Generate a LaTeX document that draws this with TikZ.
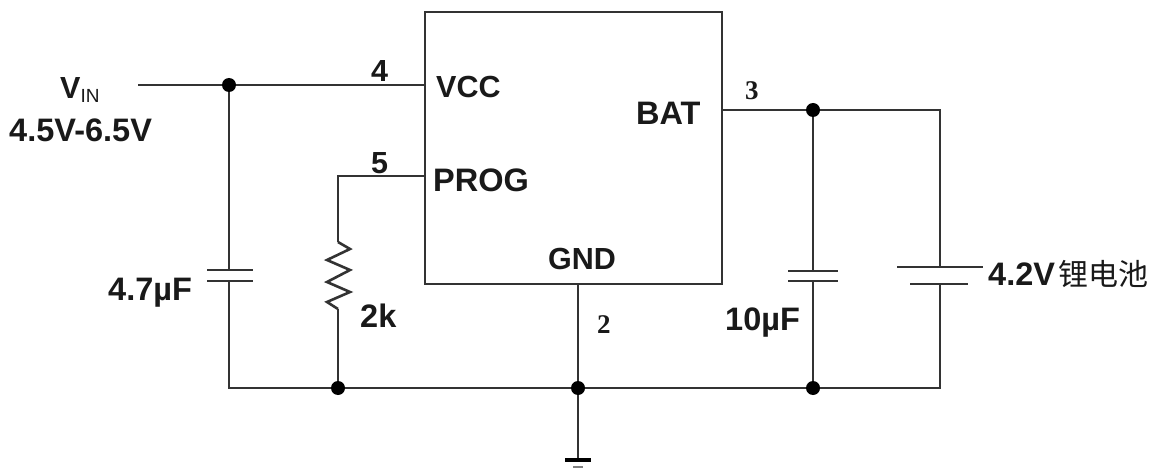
\documentclass[tikz,border=0pt]{standalone}
\usepackage{fontspec}
\setmainfont{Liberation Sans}
\newfontfamily\serifnum{Liberation Serif}
\newfontfamily\cjk{Noto Sans CJK SC}
\usetikzlibrary{positioning}
\tikzset{
  wire/.style={line width=2.6pt,draw=black!80,line join=miter},
  plate/.style={line width=2.8pt,draw=black!80},
  junction/.style={circle,fill=black,inner sep=0pt,minimum size=14pt},
  lab/.style={anchor=base west,inner sep=0pt,font=\fontsize{32.5}{36}\selectfont\bfseries,text=black!90},
  labs/.style={anchor=base west,inner sep=0pt,font=\fontsize{30.5}{36}\selectfont\bfseries,text=black!90},
  serifpin/.style={anchor=base west,inner sep=0pt,font=\fontsize{27}{30}\serifnum\bfseries,text=black!90},
  icbox/.style={draw=black!80,line width=2.6pt,minimum width=297pt,minimum height=272pt,inner sep=0pt,fill=white}
}
\begin{document}
\begin{tikzpicture}[x=1pt,y=-1pt]
\useasboundingbox[fill=white] (0,0) rectangle (1157,468);
% IC
\node[icbox] (ic) at (573.5,148) {};
\coordinate (vccpin) at (425,85);
\coordinate (progpin) at (425,176);
\coordinate (batpin) at (722,110);
\coordinate (gndpin) at (578,284);
% free ends and corners
\coordinate (vin) at (138,85);
\coordinate (progcorner) at (338,176);
\coordinate (rtop) at (338,242);
\coordinate (rbot) at (338,309);
\coordinate (c1top) at (229,270);
\coordinate (c1bot) at (229,281);
\coordinate (c2top) at (813,271);
\coordinate (c2bot) at (813,281);
\coordinate (battop) at (940,267);
\coordinate (batbot) at (940,284);
\coordinate (batcorner) at (940,110);
\coordinate (botleft) at (229,388);
\coordinate (botright) at (940,388);
\coordinate (gndend) at (578,460);
% junctions
\node[junction] (j1) at (229,85) {};
\node[junction] (j2) at (813,110) {};
\node[junction] (j3) at (338,388) {};
\node[junction] (j4) at (578,388) {};
\node[junction] (j5) at (813,388) {};
% wires
\draw[wire] (vin) -- (j1) -- (vccpin);
\draw[wire] (j1) -- (c1top);
\draw[wire] (c1bot) -- (botleft) -- (j3) -- (j4) -- (j5) -- (botright) -- (batbot);
\draw[wire] (progpin) -- (progcorner) -- (rtop);
\draw[wire] (rtop) -- ++(12,7) -- ++(-23,11) -- ++(23,10) -- ++(-23,12) -- ++(23,10) -- ++(-23,10) -- (rbot);
\draw[wire] (rbot) -- (j3);
\draw[wire] (gndpin) -- (j4) -- (gndend);
\draw[wire] (batpin) -- (j2) -- (batcorner) -- (battop);
\draw[wire] (j2) -- (c2top);
\draw[wire] (c2bot) -- (j5);
% plates
\draw[plate] ([xshift=-22pt]c1top) -- ([xshift=24pt]c1top);
\draw[plate] ([xshift=-22pt]c1bot) -- ([xshift=24pt]c1bot);
\draw[plate] ([xshift=-25pt]c2top) -- ([xshift=25pt]c2top);
\draw[plate] ([xshift=-25pt]c2bot) -- ([xshift=25pt]c2bot);
\draw[plate] ([xshift=-43pt]battop) -- ([xshift=43pt]battop);
\draw[plate] ([xshift=-30pt]batbot) -- ([xshift=28pt]batbot);
% ground
\draw[line width=4pt,draw=black] ([xshift=-13pt]gndend) -- ([xshift=13pt]gndend);
\draw[line width=2pt,draw=black!50] ([xshift=-5pt,yshift=-7pt]gndend) -- ([xshift=5pt,yshift=-7pt]gndend);
% labels
\node[labs] (tvin) at (60,99) {V\raisebox{-4pt}{\fontsize{19}{22}\selectfont\mdseries IN}};
\node[lab] (trange) at (9,142) {4.5V-6.5V};
\node[labs] (t4) at (371,82) {4};
\node[labs] (t5) at (371,174) {5};
\node[labs] (tvcc) at (436,98) {VCC};
\node[lab] (tprog) at (433,192) {PROG};
\node[lab] (tbat) at (636,125) {BAT};
\node[labs] (tgnd) at (548,269) {GND};
\node[serifpin] (t3) at (745,100) {3};
\node[serifpin] (t2) at (597,333) {2};
\node[lab] (tc1) at (108,300) {4.7µF};
\node[lab] (tr) at (360,327) {2k};
\node[lab] (tc2) at (725,330) {10µF};
\node[lab] (tbatl) at (988,285) {4.2V\hspace{3pt}{\cjk\fontsize{30}{34}\selectfont\mdseries 锂电池}};
\end{tikzpicture}
\end{document}
